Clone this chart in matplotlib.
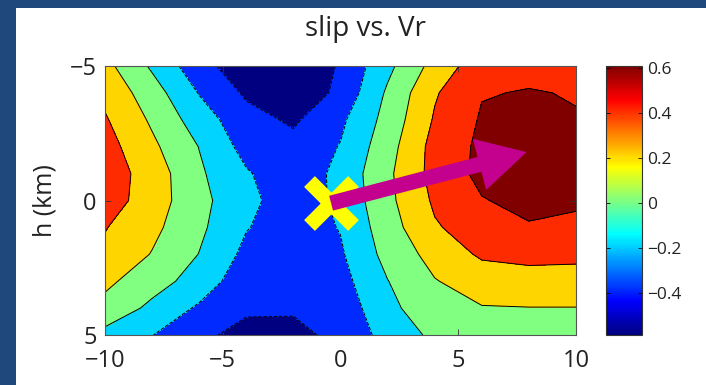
import numpy as np
import matplotlib
matplotlib.use("Agg")
import matplotlib.pyplot as plt
from matplotlib.colors import Normalize, ListedColormap
from matplotlib.patches import Rectangle

plt.rcParams['font.family'] = ['Open Sans', 'DejaVu Sans']

# grid of the slip / rupture velocity correlation
x_km = [-10, -8, -6, -4, -2, 0, 2, 4, 6, 8, 10]
h_km = [-5, -4, -3, -2, -1, 0, 1, 2, 3, 4, 5]
slip_vr = [
    [0.26, -0.03, -0.33, -0.52, -0.56, -0.38, -0.05, 0.27, 0.52, 0.55, 0.55],
    [0.35, 0.09, -0.21, -0.43, -0.55, -0.35, 0.03, 0.38, 0.59, 0.61, 0.59],
    [0.42, 0.17, -0.10, -0.33, -0.43, -0.24, 0.07, 0.42, 0.62, 0.63, 0.61],
    [0.48, 0.24, -0.005, -0.27, -0.34, -0.19, 0.12, 0.47, 0.64, 0.66, 0.63],
    [0.51, 0.31, 0.03, -0.18, -0.33, -0.145, 0.16, 0.47, 0.65, 0.66, 0.63],
    [0.50, 0.30, 0.06, -0.15, -0.30, -0.16, 0.15, 0.43, 0.59, 0.65, 0.62],
    [0.41, 0.25, 0.04, -0.19, -0.30, -0.19, 0.11, 0.38, 0.50, 0.585, 0.57],
    [0.36, 0.19, -0.005, -0.25, -0.35, -0.225, 0.065, 0.27, 0.43, 0.45, 0.44],
    [0.245, 0.08, -0.08, -0.33, -0.37, -0.27, -0.005, 0.19, 0.29, 0.33, 0.33],
    [0.136, -0.045, -0.23, -0.37, -0.37, -0.31, -0.07, 0.17, 0.19, 0.195, 0.195],
    [-0.06, -0.195, -0.36, -0.46, -0.47, -0.33, -0.137, 0.046, 0.12, 0.15, 0.15],
]
levels = [-0.6, -0.4, -0.2, 0, 0.2, 0.4, 0.6, 0.7]
cbar_min, cbar_max = -0.587, 0.61
cbar_ticks = [-0.4, -0.2, 0, 0.2, 0.4, 0.6]

# hypocenter and rupture direction
hypo_x, hypo_h = -0.4, 0.1
arrow_x, arrow_h = 7.9, -1.8


def matlab_jet(t):
    t = np.asarray(t)
    r = np.clip(1.5 - np.abs(4 * t - 3), 0, 1)
    g = np.clip(1.5 - np.abs(4 * t - 2), 0, 1)
    b = np.clip(1.5 - np.abs(4 * t - 1), 0, 1)
    return np.column_stack([r, g, b])


jet_cmap = ListedColormap(matlab_jet(np.linspace(0, 1, 256)))

fig = plt.figure(figsize=(7.06, 3.85), dpi=100, facecolor='#1f497d')
fig.patches.append(Rectangle((16 / 706, 0), 1 - 16 / 706, 377 / 385,
                             transform=fig.transFigure, facecolor='white',
                             edgecolor='none', zorder=-5))

ax = fig.add_axes([105 / 706, 50 / 385, 471 / 706, 269 / 385])
cax = fig.add_axes([606 / 706, 50 / 385, 36 / 706, 269 / 385])

band_colors = matlab_jet(np.linspace(0, 1, len(levels) - 1))
ax.contourf(x_km, h_km, slip_vr, levels=levels, colors=band_colors)
ax.contour(x_km, h_km, slip_vr, levels=levels[1:-1], colors='k', linewidths=0.7)

ax.plot(hypo_x, hypo_h, marker='x', ms=31, mew=11, color='#ffff00', zorder=5)
ax.annotate('', xy=(arrow_x, arrow_h), xytext=(hypo_x, hypo_h),
            arrowprops=dict(arrowstyle='simple,head_length=3.5,head_width=3.8,tail_width=1.1',
                            mutation_scale=10, color='#c4008e', shrinkA=0, shrinkB=0,
                            lw=0),
            zorder=6)

ax.set_xlim(-10, 10)
ax.set_ylim(5, -5)
ax.set_xticks([-10, -5, 0, 5, 10])
ax.set_yticks([-5, 0, 5])
ax.tick_params(direction='in', top=True, right=True, length=4, width=0.6,
               labelsize=17, colors='#333333', labelcolor='#222222')
ax.tick_params(axis='x', pad=10)
ax.tick_params(axis='y', pad=6)
for s in ax.spines.values():
    s.set_color('#555555')
    s.set_linewidth(0.8)
ax.set_ylabel('h (km)', fontsize=18, color='#222222', labelpad=9)

sm = plt.cm.ScalarMappable(norm=Normalize(cbar_min, cbar_max), cmap=jet_cmap)
cb = fig.colorbar(sm, cax=cax, ticks=cbar_ticks)
cb.ax.set_yticklabels(['\u22120.4', '\u22120.2', '0', '0.2', '0.4', '0.6'])
cax.tick_params(direction='in', left=True, right=True, length=3, width=0.6,
                labelsize=12.5, pad=4, labelcolor='#222222')
cb.outline.set_linewidth(0.8)
cb.outline.set_edgecolor('#333333')

fig.text(365 / 706, 1 - 36 / 385, 'slip vs. Vr', fontsize=20, ha='center',
         va='baseline', color='#222222')

fig.savefig('out.png', dpi=100, facecolor=fig.get_facecolor())
